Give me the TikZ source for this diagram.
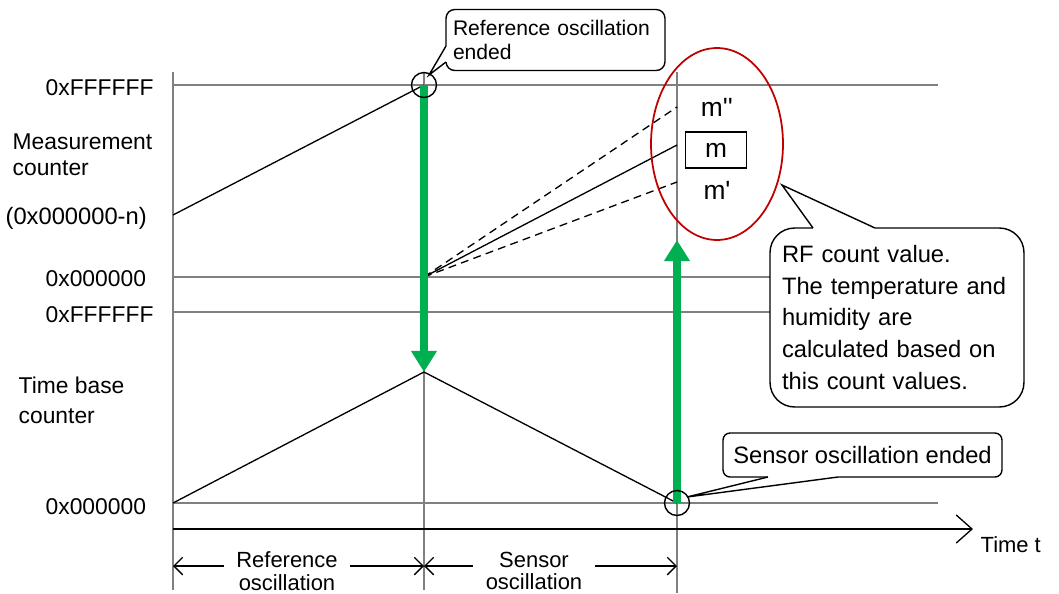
\documentclass[tikz,border=0pt]{standalone}
\usepackage{fontspec}
\setmainfont{Liberation Sans}
\usetikzlibrary{arrows.meta, calc}

\definecolor{axisgray}{RGB}{128,128,128}
\definecolor{countgreen}{RGB}{0,176,80}
\definecolor{ovalred}{RGB}{192,0,0}

\begin{document}
\begin{tikzpicture}[x=0.02cm, y=-0.02cm, line width=0.75pt, >={Straight Barb[length=5pt, width=10pt]},
    grid/.style={draw=axisgray, line width=1pt},
    lbl/.style={inner sep=0pt, font=\fontsize{13}{15}\selectfont},
    jump/.style={countgreen, line width=4pt, -{Triangle[width=14pt, length=12pt]}},
    ring/.style={circle, draw, line width=0.8pt, minimum size=0.5cm, inner sep=0pt},
    callbox/.style={draw, fill=white, line width=0.8pt, inner ysep=0pt}]
        \useasboundingbox (0,0) rectangle (1059,593);

        % 눈금선 (vertical and horizontal grey guides)
        \draw[grid] (173,72) -- (173,590);
        \draw[grid] (424,72) -- (424,590);
        \draw[grid] (677,72) -- (677,593);
        \foreach \yy in {85, 277, 312, 503}
            \draw[grid] (173,\yy) -- (938,\yy);

        % 시간축 (time axis)
        \draw[-{Straight Barb[length=9pt, width=16pt]}] (173,529) -- (973,529);
        \node[lbl, anchor=west, font=\fontsize{12.5}{15}\selectfont] (timeLbl) at (980,545) {Time t};

        % key points of the counters
        \coordinate (mStart) at (173,215);
        \coordinate (refEnd) at (424,85);
        \coordinate (refZero) at (424,277);
        \coordinate (tbStart) at (173,503);
        \coordinate (tbPeak) at (424,372);
        \coordinate (senEnd) at (677,503);
        \coordinate (senTop) at (677,240);
        \coordinate (mHi) at (677,107);
        \coordinate (mMid) at (677,145);
        \coordinate (mLo) at (677,182);

        % measurement counter ramps
        \draw (mStart) -- (refEnd);
        \draw (refZero) -- (mMid);
        \draw[dash pattern=on 4.5pt off 3pt] (refZero) -- (mHi);
        \draw[dash pattern=on 4.5pt off 3pt] (refZero) -- (mLo);

        % time base counter (up, then down)
        \draw (tbStart) -- (tbPeak) -- (senEnd);

        % 녹색 화살표 (count transfers)
        \draw[jump] (refEnd) -- (tbPeak);
        \draw[jump] (senEnd) -- (senTop);

        % end markers
        \node[ring] (refRing) at (refEnd) {};
        \node[ring] (senRing) at (senEnd) {};

        % left labels
        \node[lbl, anchor=west] (topMax) at (45,88) {0xFFFFFF};
        \node[lbl, anchor=west, align=left, font=\fontsize{13}{14.8}\selectfont] (measLbl) at (12,155) {Measurement\\counter};
        \node[lbl, anchor=west, font=\fontsize{13.5}{15}\selectfont] (measStart) at (5,218) {(0x000000-n)};
        \node[lbl, anchor=west] (topZero) at (45,279) {0x000000};
        \node[lbl, anchor=west] (botMax) at (45,315) {0xFFFFFF};
        \node[lbl, anchor=west, align=left, font=\fontsize{13}{17}\selectfont] (tbLbl) at (18,400) {Time base\\counter};
        \node[lbl, anchor=west] (botZero) at (45,507) {0x000000};

        % 빨간 타원 and the RF count values
        \draw[ovalred, line width=1pt] (717,144) ellipse [x radius=1.32cm, y radius=1.92cm];
        \node[font=\fontsize{15}{17}\selectfont] (mTwo) at (717,107) {m\textquotesingle\textquotesingle};
        \node[draw, line width=0.8pt, minimum width=1.22cm, minimum height=0.72cm, inner sep=0pt,
              font=\fontsize{15}{17}\selectfont] (mVal) at (716,150) {m};
        \node[font=\fontsize{15}{17}\selectfont] (mOne) at (717,190) {m\textquotesingle};

        % callout: reference oscillation ended
        \node[callbox, rounded corners=5pt, minimum width=4.38cm, minimum height=1.22cm, text width=4.1cm,
              inner xsep=0.14cm, align=left, font=\fontsize{12}{13.6}\selectfont] (refNote) at (555.5,40) {Reference oscillation\\ended};
        \coordinate (refTip) at (429,75);
        \fill[white] (450,46) -- (446,46) -- (refTip) -- (446,62) -- (450,62) -- cycle;
        \draw[line width=0.8pt] (446,46) -- (refTip) -- (446,62);

        % callout: RF count value
        \node[callbox, rounded corners=14pt, minimum width=5.08cm, minimum height=3.58cm, text width=4.6cm,
              inner xsep=0.24cm, align=left, font=\fontsize{13.5}{18}\selectfont] (rfNote) at (897,317.5)
              {RF count value.\\The temperature and\\humidity are\\calculated based on\\this count values.};
        \coordinate (rfTip) at (782,185);
        \fill[white] (813,232) -- (813,228) -- (rfTip) -- (875,228) -- (875,232) -- cycle;
        \draw[line width=0.8pt] (813,228) -- (rfTip) -- (875,228);

        % callout: sensor oscillation ended
        \node[callbox, rounded corners=4pt, minimum width=5.58cm, minimum height=0.88cm,
              font=\fontsize{13.5}{15}\selectfont] (senNote) at (862.5,455) {Sensor oscillation ended};
        \coordinate (senTip) at (687,497);
        \fill[white] (768,473) -- (768,477) -- (senTip) -- (838,477) -- (838,473) -- cycle;
        \draw[line width=0.8pt] (768,477) -- (senTip) -- (838,477);

        % 구간 표시 (oscillation spans)
        \coordinate (spanA) at (173,566);
        \coordinate (spanB) at (424,566);
        \coordinate (spanC) at (677,566);
        \node[align=center, inner xsep=0.24cm, font=\fontsize{12.5}{13}\selectfont] (refSpan) at (287,571) {Reference\\oscillation};
        \node[align=center, inner xsep=0.24cm, font=\fontsize{12.5}{13}\selectfont] (senSpan) at (534,571) {Sensor\\oscillation};
        \draw[->] (refSpan.west |- spanA) -- (spanA);
        \draw[->] (refSpan.east |- spanB) -- (spanB);
        \draw[->] (senSpan.west |- spanB) -- (spanB);
        \draw[->] (senSpan.east |- spanC) -- (spanC);

    \end{tikzpicture}
\end{document}
